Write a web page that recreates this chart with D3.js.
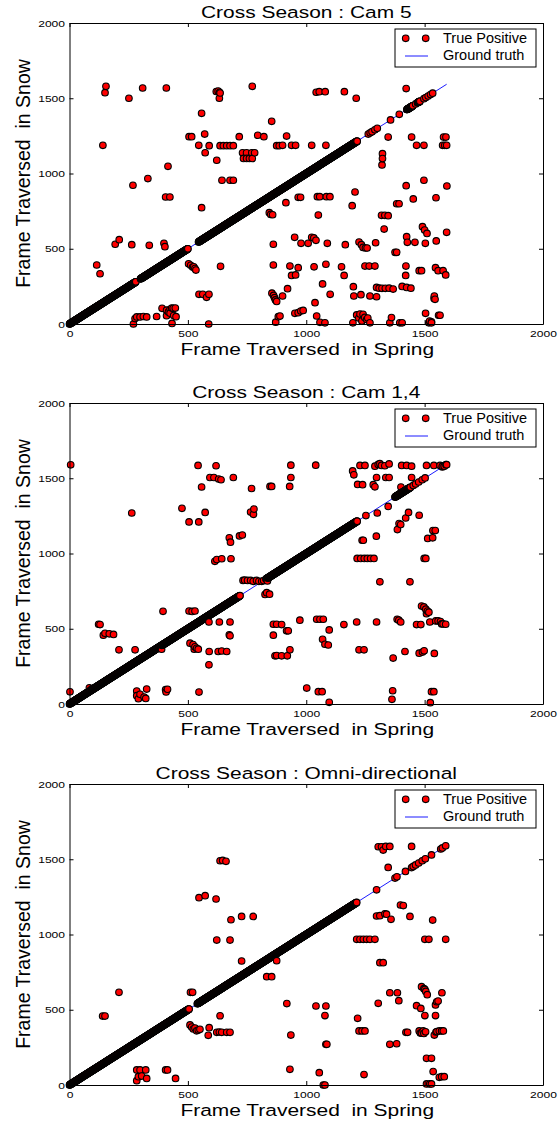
<!DOCTYPE html>
<html lang="en">
<head>
  <meta charset="UTF-8">
  <title>Cross Season</title>
  <script src="https://d3js.org/d3.v7.min.js"></script>
  <style>
    body {
      margin: 0;
      background: #fff;
      font-family: "Liberation Sans", Arial, sans-serif;
    }
    svg text { white-space: pre; }
  </style>
</head>
<body>
  <div id="chart"></div>

  <script>
    // ticks shared by the three panels
    const springTicks = [0, 500, 1000, 1500, 2000];
    const snowTicks = [0, 500, 1000, 1500, 2000];
    // ground truth goes from first to last frame (spring == snow)
    const groundTruth = [0, 1593];

    const titles = ["Cross Season : Cam 5", "Cross Season : Cam 1,4", "Cross Season : Omni-directional"];

    // matches that sit on the ground truth: [first frame, last frame] of each run
    const cam5Diag = [[0, 280], [300, 500], [545, 1215], [1262, 1262], [1270, 1270], [1278, 1278], [1290, 1290],
      [1300, 1300], [1356, 1356], [1393, 1393], [1425, 1450], [1462, 1462], [1470, 1480], [1497, 1497],
      [1505, 1505], [1515, 1515], [1525, 1525], [1534, 1534]];
    const cam14Diag = [[0, 720], [830, 1215], [1252, 1252], [1375, 1440], [1452, 1452], [1462, 1462],
      [1475, 1475], [1490, 1490], [1502, 1502], [1575, 1575], [1583, 1583], [1590, 1590]];
    const omniDiag = [[0, 505], [540, 1213], [1297, 1297], [1375, 1375], [1383, 1383], [1419, 1419],
      [1445, 1445], [1452, 1452], [1462, 1462], [1475, 1475], [1490, 1490], [1503, 1503], [1529, 1529],
      [1568, 1568], [1575, 1575], [1589, 1589]];

    // other true positives: [frame in spring, frame in snow]
    const cam5Off = [
      [154, 1579], [150, 1537], [141, 1187], [251, 1500], [309, 1568], [409, 1568], [416, 1048], [268, 922],
      [331, 966], [406, 844], [424, 844], [505, 1245], [516, 1245], [546, 1187], [571, 1262], [558, 1400],
      [573, 1138], [590, 1185], [622, 1088], [620, 1545], [628, 1548], [634, 1540], [636, 1535], [633, 1500],
      [636, 1185], [650, 1185], [664, 1185], [678, 1185], [692, 1185], [644, 955], [678, 955], [692, 955],
      [717, 1245], [731, 1138], [748, 1138], [770, 1138], [782, 1138], [735, 1100], [748, 1100], [760, 1100],
      [772, 1100], [772, 1579], [795, 1254], [821, 1245], [854, 1347], [875, 1185], [886, 1185],
      [1042, 1540], [1055, 1544], [1080, 1544], [1161, 1544], [1211, 1500], [1422, 1564],
      [917, 1249], [900, 1187], [938, 1187], [955, 1187], [1023, 1187], [1083, 1187],
      [1346, 1242], [1445, 1242], [1466, 1187], [1497, 1187], [1580, 1242], [1590, 1242], [1576, 1187],
      [1585, 1187], [1593, 1187], [1322, 1132], [1322, 1099], [1320, 1057], [1422, 919], [1497, 955],
      [1594, 917], [1206, 877], [966, 842], [976, 842], [1047, 846], [1057, 846], [1085, 846], [1100, 846],
      [1452, 831], [1548, 839],
      [558, 773], [115, 392], [129, 334], [193, 530], [210, 560], [263, 527], [337, 523], [399, 536], [403, 514],
      [503, 400], [512, 390], [520, 378], [530, 368], [534, 358], [525, 380],
      [547, 197], [563, 197], [589, 197], [579, 177], [638, 383],
      [391, 104], [410, 92], [418, 80], [425, 98], [432, 106], [438, 104], [447, 106], [425, 72], [440, 56],
      [450, 49], [410, 55], [368, 50], [284, 47], [298, 47], [312, 50], [326, 47], [277, 36], [270, 0],
      [433, 4], [588, 0],
      [844, 740], [850, 728], [858, 726], [861, 530], [861, 392], [855, 205], [862, 190], [866, 175],
      [870, 160], [875, 150], [882, 49], [871, 12],
      [914, 806], [1194, 786], [1051, 724], [1318, 722], [1332, 722], [1346, 720], [1329, 631], [1382, 799],
      [1392, 799],
      [951, 576], [978, 536], [1008, 536], [1023, 576], [1032, 572], [1041, 556], [1089, 536], [1165, 527],
      [1223, 545], [1233, 527], [1240, 509], [1250, 505], [1257, 505], [1293, 540], [1424, 580], [1427, 543],
      [1459, 543], [1491, 647], [1500, 624], [1510, 602], [1503, 536], [1549, 552], [1593, 609], [1375, 476],
      [1382, 476],
      [931, 385], [966, 374], [1033, 380], [1083, 397], [1149, 380], [1160, 323], [1248, 385], [1266, 385],
      [1290, 385], [1421, 385], [1420, 323], [1477, 354], [1487, 354], [1546, 374], [1557, 354], [1578, 354],
      [1589, 326], [955, 326], [938, 323],
      [921, 235], [900, 186], [1069, 266], [1037, 142], [1101, 197], [1199, 248], [1201, 186], [1231, 195],
      [1269, 186], [1297, 243], [1308, 238], [1320, 237], [1334, 237], [1350, 238], [1367, 232], [1297, 181],
      [1405, 250], [1424, 243], [1442, 238], [1541, 186], [1544, 164], [1540, 170], [1504, 71], [1559, 58],
      [1565, 58], [1529, 15], [1521, 20],
      [952, 71], [966, 75], [977, 86], [987, 90], [1044, 53], [1058, 11], [1079, 8], [889, 53], [1197, 8],
      [1213, 60], [1227, 66], [1240, 64], [1222, 40], [1247, 44], [1260, 40], [1269, 8], [1235, 20], [1255, 30],
      [1353, 8], [1360, 43], [1395, 8], [1405, 8], [1518, 8], [1529, 8]
    ];

    const cam14Off = [
      [5, 1589], [263, 1269], [475, 1300], [505, 1210], [546, 1210], [543, 1585], [619, 1583], [558, 1442],
      [573, 1273], [593, 1505], [610, 1505], [630, 1495], [640, 1490], [692, 1505],
      [769, 1432], [765, 1275], [777, 1260], [779, 1295], [675, 1104], [680, 1075], [718, 1117], [730, 1123],
      [847, 1446], [854, 1446], [622, 960], [643, 965], [682, 965], [614, 948],
      [935, 1587], [1040, 1587], [935, 1505], [930, 1446], [1196, 1549], [1201, 1523], [1227, 1585], [1248, 1585],
      [1290, 1580], [1304, 1592], [1318, 1585], [1332, 1583], [1350, 1595], [1311, 1597],
      [1297, 1505], [1336, 1505], [1350, 1505], [1217, 1459], [1238, 1457], [1283, 1457], [1290, 1443],
      [1403, 1585], [1424, 1585], [1445, 1580], [1445, 1505], [1508, 1585], [1539, 1585], [1565, 1585],
      [1583, 1580], [1593, 1590], [1575, 1580], [1400, 1442], [1300, 1269], [1346, 1313],
      [1432, 1273], [1420, 1236], [1392, 1199], [1385, 1159], [1399, 1192], [1477, 1254], [1535, 1152],
      [1545, 1152], [1534, 1104], [1513, 1100], [1296, 1115], [1236, 1088], [1241, 1088],
      [2, 81], [84, 108], [94, 100], [123, 530], [129, 528], [150, 470], [168, 466], [186, 462], [143, 457],
      [209, 360], [277, 360], [395, 616], [389, 364],
      [284, 86], [298, 64], [291, 35], [315, 46], [326, 99], [322, 37], [284, 55],
      [406, 95], [414, 98], [408, 80], [547, 79], [505, 618], [518, 615], [530, 618],
      [509, 404], [522, 395], [530, 380], [537, 370], [544, 364], [527, 364],
      [590, 349], [589, 260], [589, 545], [633, 545], [678, 545], [678, 453], [675, 460],
      [628, 349], [643, 352], [664, 349],
      [733, 821], [740, 823], [752, 821], [765, 821], [776, 815], [790, 821], [800, 815], [812, 815],
      [820, 820], [836, 818],
      [826, 728], [833, 740], [845, 730], [861, 530], [875, 530], [861, 457], [868, 320], [875, 322],
      [1215, 967], [1230, 967], [1245, 967], [1258, 967], [1272, 967], [1286, 967], [1498, 967], [1505, 967],
      [1311, 812], [1438, 812],
      [1487, 651], [1497, 645], [1505, 630], [1512, 618], [1518, 610], [1508, 600],
      [1522, 545], [1547, 552], [1557, 552], [1567, 548], [1578, 532], [1589, 530], [1572, 532],
      [1466, 528], [1484, 528], [1384, 563], [1391, 557], [1399, 545], [1297, 545], [1213, 545], [1159, 528],
      [1044, 563], [1058, 563], [1072, 563], [973, 557], [896, 528], [917, 486], [924, 486], [1097, 492],
      [1069, 430], [1079, 397], [1093, 392], [931, 360], [896, 320], [920, 320], [1223, 360], [1244, 360],
      [1367, 305], [1417, 349], [1477, 338], [1498, 353], [1491, 345], [1541, 336],
      [1002, 106], [1051, 82], [1067, 82], [1097, 11], [1365, 88], [1362, 31], [1529, 82], [1539, 82], [1524, 9]
    ];

    const omniOff = [
      [636, 1490], [647, 1492], [661, 1486], [547, 1245], [573, 1258], [619, 1236],
      [682, 1098], [727, 1120], [776, 1120], [622, 963], [678, 963],
      [727, 824], [875, 826], [833, 720], [854, 720],
      [140, 458], [150, 458], [209, 616], [511, 616], [520, 616], [636, 460],
      [509, 399], [516, 385], [523, 372], [530, 378], [537, 360], [544, 365], [551, 370],
      [590, 381], [586, 330], [622, 350], [633, 352], [643, 350], [664, 350], [678, 350],
      [284, 100], [298, 100], [322, 100], [326, 44], [291, 55], [305, 59], [284, 29],
      [406, 100], [414, 100], [448, 44],
      [1304, 1583], [1318, 1583], [1336, 1585], [1353, 1585], [1325, 1561], [1445, 1585], [1346, 1446],
      [1398, 1196], [1410, 1192], [1297, 1123], [1311, 1125], [1332, 1138], [1339, 1135], [1358, 1101],
      [1438, 1120], [1534, 1096],
      [1213, 968], [1227, 968], [1241, 968], [1255, 968], [1269, 968], [1290, 968], [1501, 968], [1518, 968],
      [1589, 968], [1311, 813], [1325, 813],
      [1487, 653], [1497, 640], [1505, 622], [1511, 600], [1501, 635],
      [1353, 613], [1385, 613], [1391, 560], [1573, 613], [1551, 553], [1557, 558], [1546, 532],
      [1466, 527], [1484, 509], [1304, 543], [918, 541], [1041, 525], [1083, 525], [1079, 461], [1217, 443],
      [1501, 461], [1546, 461],
      [935, 332], [1083, 270], [1087, 270], [1223, 359], [1236, 359], [1248, 359], [1353, 270], [1382, 274],
      [1421, 350], [1428, 350], [1477, 359], [1487, 346], [1494, 359], [1504, 353], [1482, 345], [1497, 343],
      [1541, 332], [1548, 352], [1562, 359], [1572, 359], [1579, 359], [1552, 355],
      [1508, 177], [1529, 177], [1536, 89], [1562, 51], [1572, 55], [1583, 55], [1508, 7], [1522, 7], [1529, 7],
      [931, 104], [1055, 82], [1244, 69], [1072, 0], [1079, 0]
    ];

    const diagRuns = [cam5Diag, cam14Diag, omniDiag];
    const offPoints = [cam5Off, cam14Off, omniOff];

    // layout
    const width = 560, height = 1124;
    const left = 69.5, right = 543, plotH = 301;
    const panelTops = [23, 403, 784];
    const wide = 1.27; // the text in the figure is drawn wider than usual

    const svg = d3.select("#chart")
                  .append("svg")
                  .attr("width", width)
                  .attr("height", height);

    function widen(texts, k) {
      texts.each(function() {
        const t = d3.select(this);
        const x = +t.attr("x") || 0, y = +t.attr("y") || 0;
        t.attr("x", null).attr("y", null)
         .attr("transform", `translate(${x},${y}) scale(${k},1)`);
      });
    }

    const x = d3.scaleLinear().domain([0, 2000]).range([left, right]);

    panelTops.forEach((top, i) => {
      const y = d3.scaleLinear().domain([0, 2000]).range([top + plotH, top]);
      const g = svg.append("g");

      // matches, in order of spring frame
      const pts = [];
      diagRuns[i].forEach(([a, b]) => {
        for (let f = a; f <= b; f++) pts.push([f, f]);
      });
      offPoints[i].forEach(d => pts.push(d));
      pts.sort((p, q) => p[0] - q[0]);

      // ground truth line
      g.append("line")
       .attr("x1", x(groundTruth[0])).attr("y1", y(groundTruth[0]))
       .attr("x2", x(groundTruth[1])).attr("y2", y(groundTruth[1]))
       .attr("stroke", "#0000ff")
       .attr("stroke-width", 0.9);

      g.selectAll(".dot")
       .data(pts)
       .enter()
       .append("circle")
       .attr("class", "dot")
       .attr("cx", d => x(d[0]))
       .attr("cy", d => y(d[1]))
       .attr("r", 3.3)
       .attr("fill", "#ff0000")
       .attr("stroke", "#000")
       .attr("stroke-width", 1.1);

      // axes, ticks pointing inward on all four sides
      const fmt = d3.format("d");
      const axB = g.append("g")
         .attr("transform", `translate(0,${top + plotH})`)
         .call(d3.axisBottom(x).tickValues(springTicks).tickFormat(fmt)
                 .tickSize(-4).tickSizeOuter(0).tickPadding(6));
      const axL = g.append("g")
         .attr("transform", `translate(${left},0)`)
         .call(d3.axisLeft(y).tickValues(snowTicks).tickFormat(fmt)
                 .tickSize(-4).tickSizeOuter(0).tickPadding(4.5));
      g.append("g")
         .attr("transform", `translate(0,${top})`)
         .call(d3.axisTop(x).tickValues(springTicks).tickSize(-4).tickSizeOuter(0).tickFormat(""));
      g.append("g")
         .attr("transform", `translate(${right},0)`)
         .call(d3.axisRight(y).tickValues(snowTicks).tickSize(-4).tickSizeOuter(0).tickFormat(""));

      [axB, axL].forEach(ax => {
        ax.attr("font-family", "'Liberation Sans', Arial, sans-serif").attr("font-size", 9.5);
        ax.selectAll("text").attr("fill", "#000");
        widen(ax.selectAll("text"), wide);
      });
      g.selectAll(".domain, .tick line").attr("stroke", "#000").attr("stroke-width", 1);

      // title and axis names
      const title = g.append("text")
       .attr("x", (left + right) / 2)
       .attr("y", top - 5)
       .attr("text-anchor", "middle")
       .style("font-size", "16.5px")
       .text(titles[i]);
      const xName = g.append("text")
       .attr("x", (left + right) / 2 + 1)
       .attr("y", top + 332)
       .attr("text-anchor", "middle")
       .style("font-size", "16.5px")
       .text("Frame Traversed  in Spring");
      widen(title, wide);
      widen(xName, wide);

      g.append("text")
       .attr("transform", `translate(30,${top + plotH / 2}) rotate(-90)`)
       .attr("text-anchor", "middle")
       .style("font-size", "19.5px")
       .text("Frame Traversed  in Snow");

      // legend
      const lg = g.append("g").attr("transform", `translate(395,${top + 6})`);
      lg.append("rect")
        .attr("width", 141).attr("height", 38)
        .attr("fill", "#fff").attr("stroke", "#000").attr("stroke-width", 1);
      lg.selectAll("circle")
        .data([10.7, 30.7])
        .enter()
        .append("circle")
        .attr("cx", d => d).attr("cy", 9.3).attr("r", 3.3)
        .attr("fill", "#ff0000").attr("stroke", "#000").attr("stroke-width", 1.1);
      lg.append("line")
        .attr("x1", 10).attr("x2", 33).attr("y1", 27).attr("y2", 27)
        .attr("stroke", "#0000ff").attr("stroke-width", 0.9);
      lg.append("text").attr("x", 48).attr("y", 14).style("font-size", "14.5px").text("True Positive");
      lg.append("text").attr("x", 48).attr("y", 31).style("font-size", "14.5px").text("Ground truth");
    });
  </script>
</body>
</html>
